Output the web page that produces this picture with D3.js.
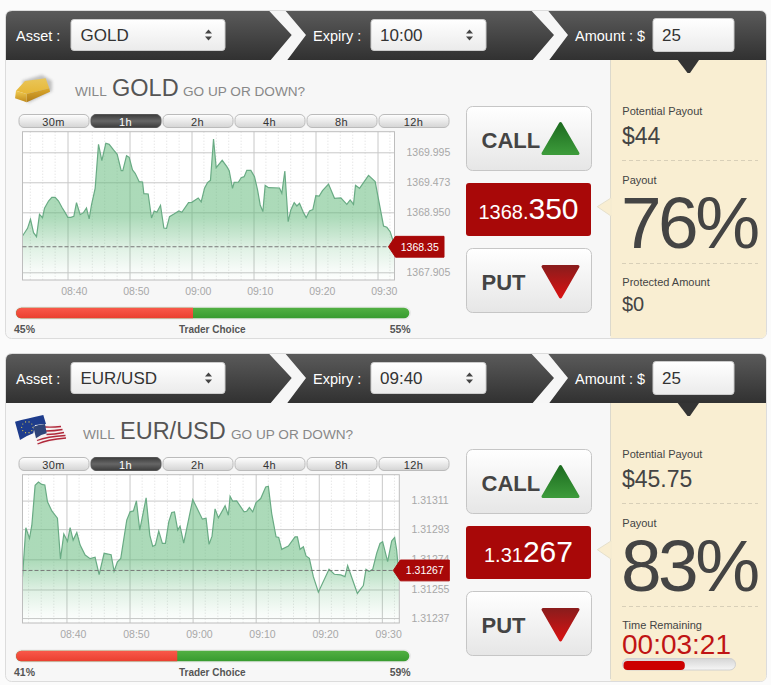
<!DOCTYPE html>
<html>
<head>
<meta charset="utf-8">
<script src="https://cdn.jsdelivr.net/npm/d3@7"></script>
<style>
  html, body { margin: 0; padding: 0; background: #fbfbfb; }
  svg { display: block; font-family: "Liberation Sans", Arial, sans-serif; }
  .axis .domain { display: none; }
  .axis text { fill: #a8a8a8; font-size: 10.5px; font-family: "Liberation Sans", Arial, sans-serif; }
</style>
</head>
<body>
<div id="chart"></div>
<script>
// ranges on the top of each chart
var rangeTabs = ["30m", "1h", "2h", "4h", "8h", "12h"];
var activeTab = "1h";

// minutes after 08:00
var timeTicks = [40, 50, 60, 70, 80, 90];
var minorTimeTicks = [34, 36, 38, 42, 44, 46, 48, 52, 54, 56, 58, 62, 64, 66, 68, 72, 74, 76, 78, 82, 84, 86, 88, 92];

var goldTimes = [32.74, 33.55, 34.03, 34.52, 35.0, 35.48, 35.97, 36.29, 36.94, 37.47, 38.01, 38.55, 39.09, 39.62, 40.05, 40.54, 41.02, 41.45, 42.04, 42.58, 43.06, 43.49, 43.87, 44.46, 45.0, 45.54, 46.18, 46.72, 47.42, 48.01, 48.66, 48.92, 49.52, 49.95, 50.48, 50.91, 51.56, 52.1, 52.31, 53.01, 53.55, 53.98, 54.41, 55.0, 55.54, 55.97, 56.45, 57.1, 57.96, 58.44, 59.52, 60.05, 61.08, 61.56, 62.1, 62.58, 63.06, 63.55, 63.98, 64.95, 65.7, 66.08, 66.61, 66.88, 67.58, 68.01, 68.49, 68.92, 69.57, 70.16, 70.65, 71.08, 71.51, 71.88, 72.42, 74.19, 74.57, 75.05, 75.59, 76.02, 76.56, 76.99, 77.42, 78.06, 78.49, 79.03, 79.57, 80.05, 80.59, 81.13, 82.1, 83.06, 84.09, 85.05, 85.59, 86.13, 86.45, 87.1, 88.55, 89.62, 90.97, 91.51, 92.04, 92.47, 92.74];
var goldPrices = [1368.538, 1368.671, 1368.828, 1368.596, 1368.526, 1368.915, 1368.857, 1369.020, 1369.147, 1369.211, 1369.211, 1369.147, 1369.037, 1368.944, 1368.863, 1368.863, 1368.880, 1369.118, 1368.909, 1368.944, 1369.025, 1368.834, 1369.078, 1369.368, 1370.134, 1369.850, 1370.152, 1370.134, 1370.036, 1369.960, 1369.676, 1369.676, 1369.937, 1369.908, 1369.687, 1369.629, 1369.484, 1369.478, 1369.275, 1369.269, 1368.851, 1368.973, 1368.950, 1369.072, 1368.677, 1368.671, 1368.875, 1368.915, 1368.973, 1368.950, 1369.118, 1369.124, 1369.200, 1369.130, 1369.368, 1369.467, 1369.507, 1370.227, 1369.728, 1369.856, 1369.745, 1369.676, 1369.368, 1369.472, 1369.478, 1369.554, 1369.571, 1369.681, 1369.681, 1369.571, 1369.339, 1369.078, 1368.962, 1369.420, 1369.380, 1369.374, 1369.281, 1369.670, 1368.787, 1368.991, 1369.118, 1369.060, 1369.107, 1368.944, 1368.857, 1368.973, 1368.996, 1369.240, 1369.234, 1369.327, 1369.443, 1369.194, 1369.200, 1369.089, 1369.165, 1369.089, 1369.420, 1369.368, 1369.594, 1369.484, 1368.712, 1368.689, 1368.613, 1368.468, 1368.380];
var goldTicks = [1369.995, 1369.473, 1368.950, 1367.905];

var eurTimes = [33.03, 33.56, 34.14, 34.51, 35.03, 35.56, 36.09, 36.57, 36.99, 37.68, 38.57, 39.05, 39.58, 40.16, 40.58, 41.06, 41.64, 42.17, 42.96, 43.75, 44.54, 45.18, 45.97, 47.08, 47.55, 48.08, 48.61, 49.56, 50.09, 50.62, 51.09, 51.62, 52.63, 53.21, 53.68, 54.1, 54.63, 55.21, 55.69, 56.22, 56.69, 57.12, 57.64, 58.01, 58.59, 60.02, 60.65, 61.55, 62.13, 62.61, 63.08, 63.56, 64.09, 65.15, 65.67, 65.94, 66.36, 66.99, 68.16, 68.58, 69.0, 69.53, 70.06, 70.8, 71.59, 72.01, 72.54, 73.23, 73.65, 74.13, 75.18, 76.24, 76.61, 77.03, 77.56, 77.98, 78.51, 79.14, 79.94, 81.63, 82.47, 83.48, 84.16, 84.58, 86.12, 87.07, 87.49, 87.97, 88.55, 89.18, 89.71, 90.13, 90.92, 91.56, 92.03, 92.35, 92.72];
var eurPrices = [1.312631, 1.312939, 1.312872, 1.312955, 1.313206, 1.313227, 1.313212, 1.313208, 1.313102, 1.313045, 1.312999, 1.312742, 1.312899, 1.312853, 1.312939, 1.312861, 1.312909, 1.312830, 1.312767, 1.312744, 1.312753, 1.312644, 1.312778, 1.312769, 1.312665, 1.312725, 1.312746, 1.312987, 1.313039, 1.313045, 1.313108, 1.312924, 1.313127, 1.312893, 1.312822, 1.312830, 1.312918, 1.312840, 1.312840, 1.312976, 1.313035, 1.313039, 1.312924, 1.312949, 1.312842, 1.313116, 1.313066, 1.312993, 1.312999, 1.312834, 1.312886, 1.313058, 1.313001, 1.313077, 1.313018, 1.313137, 1.313106, 1.313108, 1.313039, 1.313043, 1.313066, 1.313039, 1.313097, 1.313123, 1.313196, 1.313200, 1.313028, 1.312882, 1.312878, 1.312803, 1.312824, 1.312882, 1.312882, 1.312803, 1.312819, 1.312761, 1.312746, 1.312631, 1.312533, 1.312677, 1.312646, 1.312642, 1.312631, 1.312700, 1.312525, 1.312575, 1.312677, 1.312663, 1.312677, 1.312778, 1.312840, 1.312851, 1.312725, 1.312855, 1.312878, 1.312799, 1.312631];
var eurTicks = [1.31311, 1.31293, 1.31274, 1.31255, 1.31237];

var timerShare = 0.55;

var panels = [
  {
    top: 11, asset: "GOLD", expiry: "10:00", amount: "25", icon: "gold",
    titleX: [75, 112, 183],
    times: goldTimes, prices: goldPrices, ticks: goldTicks, tickFormat: ".3f",
    current: 1368.35, currentText: "1368.35",
    domainX: [32.74, 92.74], domainY: [1367.771, 1370.354],
    chartRight: 394.5, tickRight: 406.5, badgeRight: 444,
    priceSmall: "1368.", priceBig: "350",
    down: 45, up: 55,
    potential: "$44", payout: "76%", third: "Protected Amount", thirdValue: "$0"
  },
  {
    top: 354, asset: "EUR/USD", expiry: "09:40", amount: "25", icon: "flag",
    titleX: [83, 120, 231],
    times: eurTimes, prices: eurPrices, ticks: eurTicks, tickFormat: ".5f",
    current: 1.31267, currentText: "1.31267",
    domainX: [33.03, 92.77], domainY: [1.312339, 1.313273],
    chartRight: 399.3, tickRight: 411.5, badgeRight: 449.3,
    priceSmall: "1.31", priceBig: "267",
    down: 41, up: 59,
    potential: "$45.75", payout: "83%", third: "Time Remaining", thirdValue: "00:03:21"
  }
];

var formatClock = function(m) {
  var h = 8 + Math.floor(m / 60);
  return "0" + h + ":" + d3.format("02")(m % 60);
};

var svg = d3.select("#chart").append("svg")
  .attr("width", 771)
  .attr("height", 685);

var defs = svg.append("defs");

var addGradient = function(id, stops) {
  var g = defs.append("linearGradient").attr("id", id)
    .attr("x1", 0).attr("x2", 0).attr("y1", 0).attr("y2", 1);
  stops.forEach(function(s) {
    g.append("stop").attr("offset", s[0]).attr("stop-color", s[1]).attr("stop-opacity", s[2] === undefined ? 1 : s[2]);
  });
};

addGradient("head", [[0, "#5a5a5a"], [1, "#313131"]]);
addGradient("field", [[0, "#ffffff"], [1, "#ebebeb"]]);
addGradient("tab", [[0, "#ffffff"], [1, "#d4d4d4"]]);
addGradient("tabOn", [[0, "#3c3c3c"], [0.5, "#666666"], [1, "#3c3c3c"]]);
addGradient("button", [[0, "#ffffff"], [1, "#e6e6e6"]]);
addGradient("callArrow", [[0, "#1d6c20"], [1, "#3c9a3a"]]);
addGradient("putArrow", [[0, "#8c1c1c"], [1, "#d81212"]]);
addGradient("redBar", [[0, "#f9594a"], [1, "#ea3f2f"]]);
addGradient("greenBar", [[0, "#52b043"], [1, "#379b2f"]]);
addGradient("areaFill", [[0, "#5fb878", 0.52], [0.55, "#5fb878", 0.52], [0.69, "#5fb878", 0.33], [0.77, "#5fb878", 0.2], [0.93, "#5fb878", 0.05], [1, "#5fb878", 0.01]]);
addGradient("timerTrack", [[0, "#d6d6d6"], [1, "#f6f6f6"]]);
addGradient("goldTop", [[0, "#e9c65a"], [1, "#e6b634"]]);
addGradient("goldFront", [[0, "#dca92c"], [1, "#b07c18"]]);
addGradient("goldEnd", [[0, "#f2cc50"], [1, "#c08a1c"]]);

defs.append("filter").attr("id", "soft").attr("x", "-30%").attr("y", "-30%").attr("width", "160%").attr("height", "160%")
  .append("feGaussianBlur").attr("stdDeviation", 1.6);

var arrowLine = d3.line();

var drawIcon = function(g, type) {
  if (type === "gold") {
    g.append("path").attr("d", "M22 70 L42 64 L52 70 L52 80 L28 92 Z").attr("fill", "#888").attr("opacity", 0.5).attr("filter", "url(#soft)");
    g.append("path").attr("d", "M16 79.7 L25 70 L45.7 67.3 L49.3 77.3 L26.7 83 Z").attr("fill", "url(#goldTop)");
    g.append("path").attr("d", "M26.7 83 L49.3 77.3 L50 80.7 L26.7 91.3 Z").attr("fill", "url(#goldFront)");
    g.append("path").attr("d", "M16 79.7 L26.7 83 L26.7 91.3 L15 87.3 Z").attr("fill", "url(#goldEnd)");
    return;
  }
  // EU flag behind, US flag in front
  g.append("path").attr("d", "M15 67.7 Q27 64.5 43.3 61 L46 70 L35 71 L33.3 79.3 Q26 82 20 86 Z").attr("fill", "#1e3c8c");
  d3.range(10).forEach(function(i) {
    var a = i * Math.PI / 5;
    g.append("circle").attr("cx", 27.3 + 5.6 * Math.cos(a)).attr("cy", 73.3 + 5.6 * Math.sin(a)).attr("r", 0.6).attr("fill", "#e8d24a");
  });
  g.append("path").attr("d", "M33.3 72.7 Q38 70.5 43.3 70 Q50 71.5 56.7 71 L60 70 L66.7 84.3 Q61 85 56.7 86.7 Q51 87.5 46.7 89.3 Q42 90.5 38.3 92.7 L36 84.3 Z").attr("fill", "#f5f0f0");
  ["M45 73 Q52 73.5 61 72.5", "M46 77 Q54 77 62.5 75.5", "M46.5 80.5 Q54 80.5 64 78.5", "M37 86.5 Q47 82.5 65.5 81.5", "M37.5 90 Q47 85.5 66 84"].forEach(function(d) {
    g.append("path").attr("d", d).attr("fill", "none").attr("stroke", "#b0283a").attr("stroke-width", 1.3);
  });
  g.append("path").attr("d", "M33.3 72.7 Q38 70.5 45 70 L46.7 79.3 Q41 80.5 36 84.3 Z").attr("fill", "#2f4478");
};

var drawChart = function(g, p) {
  var margins = { top: 120.7, left: 22.5, bottom: 269, right: p.chartRight };
  var chartWidth = margins.right - margins.left;
  var chartHeight = margins.bottom - margins.top;

  var xScale = d3.scaleLinear().domain(p.domainX).range([0, chartWidth]);
  var yScale = d3.scaleLinear().domain(p.domainY).range([chartHeight, 0]);

  var chart = g.append("g").attr("transform", "translate(" + margins.left + "," + margins.top + ")");

  chart.append("rect").attr("width", chartWidth).attr("height", chartHeight).attr("fill", "#fff");

  // dotted minor grid
  chart.append("g").attr("class", "minor-x").selectAll("line").data(minorTimeTicks).enter().append("line")
    .attr("x1", function(d) { return xScale(d); }).attr("x2", function(d) { return xScale(d); })
    .attr("y1", 0).attr("y2", chartHeight)
    .attr("stroke", "#dcdcdc").attr("stroke-dasharray", "1,2");

  var step = (yScale(p.ticks[0]) - yScale(p.ticks[1])) / 2;
  var minorY = d3.range(yScale(p.ticks[0]) % step, chartHeight, step);
  chart.append("g").attr("class", "minor-y").selectAll("line").data(minorY).enter().append("line")
    .attr("x1", 0).attr("x2", chartWidth)
    .attr("y1", function(d) { return d; }).attr("y2", function(d) { return d; })
    .attr("stroke", "#dcdcdc").attr("stroke-dasharray", "1,2");

  // solid grid and labels
  var xAxis = d3.axisBottom(xScale).tickValues(timeTicks).tickFormat(formatClock).tickSize(-chartHeight).tickPadding(0);
  chart.append("g").attr("class", "x axis").attr("transform", "translate(0," + chartHeight + ")").call(xAxis);
  chart.selectAll(".x.axis line").attr("stroke", "#c8c8c8");
  chart.selectAll(".x.axis text").attr("dx", 6.3).attr("y", 0).attr("dy", 15);

  var yAxis = d3.axisRight(yScale).tickValues(p.ticks).tickFormat(d3.format(p.tickFormat)).tickSize(chartWidth).tickPadding(p.tickRight - p.chartRight);
  chart.append("g").attr("class", "y axis").call(yAxis);
  chart.selectAll(".y.axis line").attr("stroke", "#c8c8c8");

  var rows = p.times.map(function(t, i) { return { t: t, v: p.prices[i] }; });

  var area = d3.area()
    .x(function(d) { return xScale(d.t); })
    .y0(chartHeight)
    .y1(function(d) { return yScale(d.v); });
  var line = d3.line()
    .x(function(d) { return xScale(d.t); })
    .y(function(d) { return yScale(d.v); });

  chart.append("path").attr("d", area(rows)).attr("fill", "url(#areaFill)");
  chart.append("path").attr("d", line(rows)).attr("fill", "none").attr("stroke", "#69ab84").attr("stroke-width", 1.2);

  chart.append("rect").attr("width", chartWidth).attr("height", chartHeight)
    .attr("fill", "none").attr("stroke", "#bdbdbd").attr("stroke-width", 1);

  chart.append("line").attr("x1", 0).attr("x2", chartWidth)
    .attr("y1", yScale(p.current)).attr("y2", yScale(p.current))
    .attr("stroke", "#777").attr("stroke-dasharray", "4,2").attr("stroke-width", 1);

  // price badge
  var cy = yScale(p.current);
  var bx = chartWidth - 6;
  var bEnd = p.badgeRight - margins.left;
  var flagLeft = bx + 7;
  chart.append("path")
    .attr("d", arrowLine([[bx, cy], [flagLeft, cy - 10.4], [bEnd, cy - 10.4], [bEnd, cy + 10.4], [flagLeft, cy + 10.4]]) + "Z")
    .attr("fill", "#a80808").attr("stroke", "#a80808").attr("stroke-linejoin", "round");
  chart.append("text").attr("x", (flagLeft + bEnd) / 2).attr("y", cy + 3.8)
    .attr("text-anchor", "middle").attr("fill", "#fff").attr("font-size", 10.5).text(p.currentText);
};

var drawPanel = function(p) {
  var g = svg.append("g").attr("transform", "translate(0," + p.top + ")");

  g.append("rect").attr("x", 5.5).attr("y", -0.5).attr("width", 761).attr("height", 328)
    .attr("rx", 6).attr("fill", "#f7f7f7").attr("stroke", "#dcdcdc");

  // cream column
  g.append("path").attr("d", "M610.5 49 H766 V322 Q766 327 761 327 H610.5 Z")
    .attr("fill", "#f9eed2").attr("stroke", "none");
  g.append("line").attr("x1", 610.5).attr("x2", 610.5).attr("y1", 49).attr("y2", 325).attr("stroke", "#dcd9cd");

  // header
  g.append("path").attr("d", "M6 49 V6 Q6 0 12 0 H760 Q766 0 766 6 V49 Z").attr("fill", "url(#head)");
  [[269.3, 285.7, 306, 287.3, 270.7, 291.7], [531.7, 548.3, 568, 549.3, 532.7, 554]].forEach(function(c) {
    g.append("polygon")
      .attr("points", [[c[0], 0], [c[1], 0], [c[2], 24], [c[3], 49], [c[4], 49], [c[5], 24]].join(" "))
      .attr("fill", "#f6f6f6");
  });
  g.append("polygon").attr("points", "677.7,49 699,49 690,62 687.5,62").attr("fill", "#343434");

  var fields = [
    { label: "Asset :", lx: 16, x: 71, w: 154, text: p.asset, tx: 80.5, spin: true },
    { label: "Expiry :", lx: 313, x: 371, w: 115, text: p.expiry, tx: 380, spin: true },
    { label: "Amount : $", lx: 575, x: 653, w: 81, text: p.amount, tx: 662, spin: false }
  ];
  fields.forEach(function(f) {
    g.append("text").attr("x", f.lx).attr("y", 29.5).attr("fill", "#fff").attr("font-size", 14.5).text(f.label);
    g.append("rect").attr("x", f.x).attr("y", f.spin ? 8.5 : 7.5).attr("width", f.w).attr("height", f.spin ? 31 : 33)
      .attr("rx", 3).attr("fill", "url(#field)").attr("stroke", "#cccccc");
    g.append("text").attr("x", f.tx).attr("y", 30).attr("fill", "#333").attr("font-size", 17).text(f.text);
    if (f.spin) {
      var sx = f.x + f.w - 16.5;
      g.append("polygon").attr("points", [[sx - 3.5, 22.5], [sx + 3.5, 22.5], [sx, 18.5]].join(" ")).attr("fill", "#444");
      g.append("polygon").attr("points", [[sx - 3.5, 25.5], [sx + 3.5, 25.5], [sx, 29.5]].join(" ")).attr("fill", "#444");
    }
  });

  // title
  drawIcon(g, p.icon);
  g.append("text").attr("x", p.titleX[0]).attr("y", 84.5).attr("fill", "#888").attr("font-size", 13.6).text("WILL");
  g.append("text").attr("x", p.titleX[1]).attr("y", 84.5).attr("fill", "#555").attr("font-size", 23.5).text(p.asset);
  g.append("text").attr("x", p.titleX[2]).attr("y", 84.5).attr("fill", "#888").attr("font-size", 13.6).text("GO UP OR DOWN?");

  // range tabs
  var tabScale = d3.scaleBand().domain(rangeTabs).range([18.5, 448.5]).paddingInner(2 / 72);
  var tabs = g.append("g").selectAll("g").data(rangeTabs).enter().append("g");
  tabs.append("rect")
    .attr("x", function(d) { return tabScale(d) + 0.5; })
    .attr("y", 103.5).attr("width", tabScale.bandwidth()).attr("height", 13).attr("rx", 5)
    .attr("fill", function(d) { return d === activeTab ? "url(#tabOn)" : "url(#tab)"; })
    .attr("stroke", function(d) { return d === activeTab ? "#555" : "#bbb"; });
  tabs.append("text")
    .attr("x", function(d) { return tabScale(d) + tabScale.bandwidth() / 2; })
    .attr("y", 114.5).attr("text-anchor", "middle").attr("font-size", 11)
    .attr("letter-spacing", 0.4)
    .attr("fill", function(d) { return d === activeTab ? "#fff" : "#333"; })
    .text(function(d) { return d; });

  drawChart(g, p);

  // trader choice bar
  var shareScale = d3.scaleLinear().domain([0, 100]).range([16, 409.3]);
  g.append("rect").attr("x", 15).attr("y", 295.5).attr("width", 396).attr("height", 13).attr("rx", 6.5).attr("fill", "#e9e9e9");
  g.append("rect").attr("x", shareScale(0)).attr("y", 296.7).attr("width", shareScale(100) - shareScale(0)).attr("height", 10.6).attr("rx", 5.3).attr("fill", "url(#greenBar)");
  g.append("path")
    .attr("d", "M" + shareScale(p.down) + " 296.7 H21.3 A5.3 5.3 0 0 0 21.3 307.3 H" + shareScale(p.down) + " Z")
    .attr("fill", "url(#redBar)");
  g.append("text").attr("x", 14).attr("y", 321.7).attr("font-size", 10.5).attr("font-weight", "bold").attr("fill", "#555").text(p.down + "%");
  g.append("text").attr("x", 212.3).attr("y", 321.7).attr("text-anchor", "middle").attr("font-size", 10).attr("font-weight", "bold").attr("fill", "#555").text("Trader Choice");
  g.append("text").attr("x", 410.7).attr("y", 321.7).attr("text-anchor", "end").attr("font-size", 10.5).attr("font-weight", "bold").attr("fill", "#555").text(p.up + "%");

  // call / put
  g.append("rect").attr("x", 466.5).attr("y", 95.5).attr("width", 125).attr("height", 64).attr("rx", 6).attr("fill", "url(#button)").attr("stroke", "#c6c6c6");
  g.append("text").attr("x", 481.5).attr("y", 136.7).attr("font-size", 22).attr("font-weight", "bold").attr("fill", "#444").text("CALL");
  g.append("polygon").attr("points", "560.5,112.5 578,142.5 543,142.5").attr("fill", "url(#callArrow)").attr("stroke", "url(#callArrow)").attr("stroke-width", 3).attr("stroke-linejoin", "round");

  g.append("rect").attr("x", 466).attr("y", 172).attr("width", 125).attr("height", 53).attr("rx", 3).attr("fill", "#a80808");
  var priceText = g.append("text").attr("x", 528.5).attr("y", 208.3).attr("text-anchor", "middle").attr("fill", "#fff");
  priceText.append("tspan").attr("font-size", 20).text(p.priceSmall);
  priceText.append("tspan").attr("font-size", 30).text(p.priceBig);

  g.append("rect").attr("x", 466.5).attr("y", 237.5).attr("width", 125).attr("height", 64).attr("rx", 6).attr("fill", "url(#button)").attr("stroke", "#c6c6c6");
  g.append("text").attr("x", 481.5).attr("y", 279).attr("font-size", 22).attr("font-weight", "bold").attr("fill", "#444").text("PUT");
  g.append("polygon").attr("points", "543,255.5 578,255.5 560.5,286").attr("fill", "url(#putArrow)").attr("stroke", "url(#putArrow)").attr("stroke-width", 3).attr("stroke-linejoin", "round");

  // pointer from the column to the price box
  g.append("polygon").attr("points", "611,187 597.3,195.7 611,205").attr("fill", "#f9eed2").attr("stroke", "#e6e0cc");
  g.append("line").attr("x1", 611).attr("x2", 611).attr("y1", 187.5).attr("y2", 204.5).attr("stroke", "#f9eed2").attr("stroke-width", 1.5);

  // payout column
  var infoLabel = function(y, t) {
    g.append("text").attr("x", 622.3).attr("y", y).attr("font-size", 11).attr("fill", "#444").text(t);
  };
  infoLabel(104, "Potential Payout");
  g.append("text").attr("x", 622).attr("y", 133).attr("font-size", 23).attr("fill", "#444").text(p.potential);
  g.append("line").attr("x1", 622).attr("x2", 758).attr("y1", 149.5).attr("y2", 149.5).attr("stroke", "#d8cfb8").attr("stroke-dasharray", "4,3");
  infoLabel(173, "Payout");
  g.append("text").attr("x", 621).attr("y", 237.3).attr("font-size", 73).attr("letter-spacing", -3.5).attr("fill", "#444").text(p.payout);
  g.append("line").attr("x1", 622).attr("x2", 758).attr("y1", 252.5).attr("y2", 252.5).attr("stroke", "#d8cfb8").attr("stroke-dasharray", "4,3");
  infoLabel(275, p.third);

  if (p.third === "Time Remaining") {
    g.append("text").attr("x", 622).attr("y", 299.5).attr("font-size", 28).attr("fill", "#c01414").text(p.thirdValue);
    var timerScale = d3.scaleLinear().domain([0, 1]).range([623.5, 735]);
    g.append("rect").attr("x", 622.5).attr("y", 304.5).attr("width", 113).attr("height", 11.5).attr("rx", 5.7).attr("fill", "url(#timerTrack)").attr("stroke", "#d0d0d0");
    g.append("rect").attr("x", timerScale(0)).attr("y", 307).attr("width", timerScale(timerShare) - timerScale(0)).attr("height", 9).attr("rx", 4).attr("fill", "#cc0000");
  } else {
    g.append("text").attr("x", 622).attr("y", 299.7).attr("font-size", 20).attr("fill", "#444").text(p.thirdValue);
  }
};

panels.forEach(drawPanel);
</script>
</body>
</html>
